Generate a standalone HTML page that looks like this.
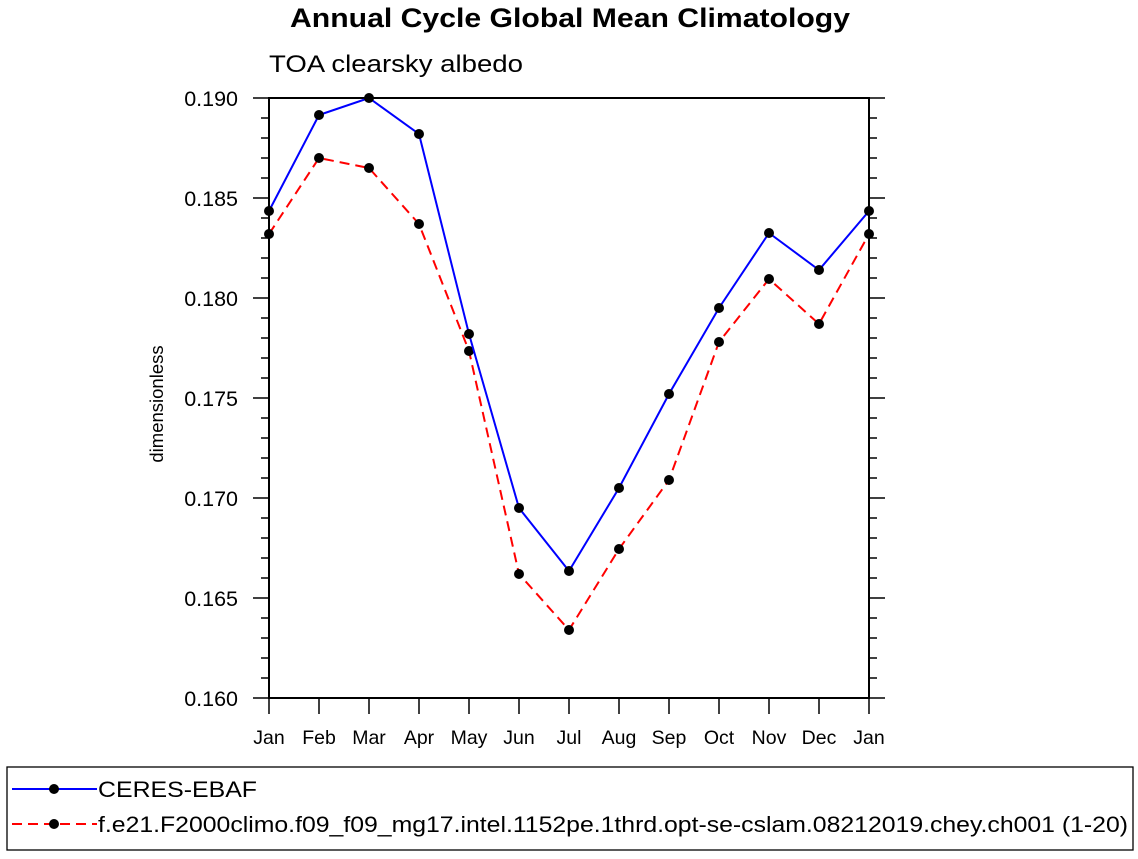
<!DOCTYPE html>
<html><head><meta charset="utf-8"><style>body{margin:0;background:#fff}svg{font-family:"Liberation Sans",sans-serif}</style></head>
<body>
<svg id="c" width="1138" height="854" viewBox="0 0 1138 854">
<text x="290" y="27" textLength="560" lengthAdjust="spacingAndGlyphs" font-size="27" font-weight="bold">Annual Cycle Global Mean Climatology</text>
<text x="269" y="72" textLength="254" lengthAdjust="spacingAndGlyphs" font-size="24">TOA clearsky albedo</text>
<text transform="translate(163,404) rotate(-90)" text-anchor="middle" font-size="18.5">dimensionless</text>
<g id="axes"></g>
<g id="series"></g>
<rect x="7" y="767" width="1126" height="83" fill="none" stroke="#000" stroke-width="1.3"/>
<g>
<line x1="12" y1="789" x2="97" y2="789" stroke="#00f" stroke-width="2"/><circle cx="54" cy="789" r="5"/>
<text x="98" y="797" font-size="22" textLength="159" lengthAdjust="spacingAndGlyphs">CERES-EBAF</text></g>
<g>
<line x1="12" y1="824" x2="97" y2="824" stroke="#f00" stroke-width="2" stroke-dasharray="10,6"/><circle cx="54" cy="824" r="5"/>
<text x="98" y="832" font-size="22" textLength="1030" lengthAdjust="spacingAndGlyphs">f.e21.F2000climo.f09_f09_mg17.intel.1152pe.1thrd.opt-se-cslam.08212019.chey.ch001 (1-20)</text></g>
</svg>
<script>
const months=["Jan","Feb","Mar","Apr","May","Jun","Jul","Aug","Sep","Oct","Nov","Dec","Jan"];
const ceres=[0.18435,0.18915,0.1900,0.1882,0.1782,0.1695,0.16635,0.1705,0.1752,0.1795,0.18325,0.1814,0.18435];
const model=[0.1832,0.1870,0.1865,0.1837,0.17735,0.1662,0.1634,0.16745,0.1709,0.1778,0.18095,0.1787,0.1832];
const yTicks=["0.160","0.165","0.170","0.175","0.180","0.185","0.190"];
const NS="http://www.w3.org/2000/svg";
const L=269,R=869,T=98,B=698,ymin=0.160,ymax=0.190;
const xs=i=>L+i*(R-L)/(months.length-1);
const ys=v=>B-(v-ymin)/(ymax-ymin)*(B-T);
function mk(t,a,p){const e=document.createElementNS(NS,t);for(const k in a)e.setAttribute(k,a[k]);p.appendChild(e);return e;}
const ax=document.getElementById('axes'),sg=document.getElementById('series');
const fr=mk('rect',{x:L,y:T,width:R-L,height:B-T,fill:'none',stroke:'#000','stroke-width':2},ax);


for(let k=0;k<=30;k++){const v=ymin+k*0.001,y=ys(v),len=k%5==0?16:8;
 mk('line',{x1:L-len,y1:y,x2:L,y2:y,stroke:'#000','stroke-width':1.5},ax);
 mk('line',{x1:R,y1:y,x2:R+len,y2:y,stroke:'#000','stroke-width':1.5},ax);}
yTicks.forEach(s=>{const t=mk('text',{x:238,y:ys(+s)+8,'text-anchor':'end','font-size':21.5},ax);t.textContent=s;
 
 });
months.forEach((m,i)=>{const x=xs(i);
 mk('line',{x1:x,y1:B,x2:x,y2:B+16,stroke:'#000','stroke-width':1.5},ax);
 const t=mk('text',{x:x,y:744,'text-anchor':'middle','font-size':19.5},ax);t.textContent=m;
 
 });
function series(d,col,dash,name){
 const p=mk('polyline',{points:d.map((v,i)=>xs(i)+','+ys(v)).join(' '),fill:'none',stroke:col,'stroke-width':2,'stroke-dasharray':dash},sg);
 
 
 d.forEach((v,i)=>{const c=mk('circle',{cx:xs(i),cy:ys(v),r:5,fill:'#000'},sg);
 
 });}
series(model,'#f00','10,6','model');
series(ceres,'#00f','none','ceres');
</script>
</body></html>
